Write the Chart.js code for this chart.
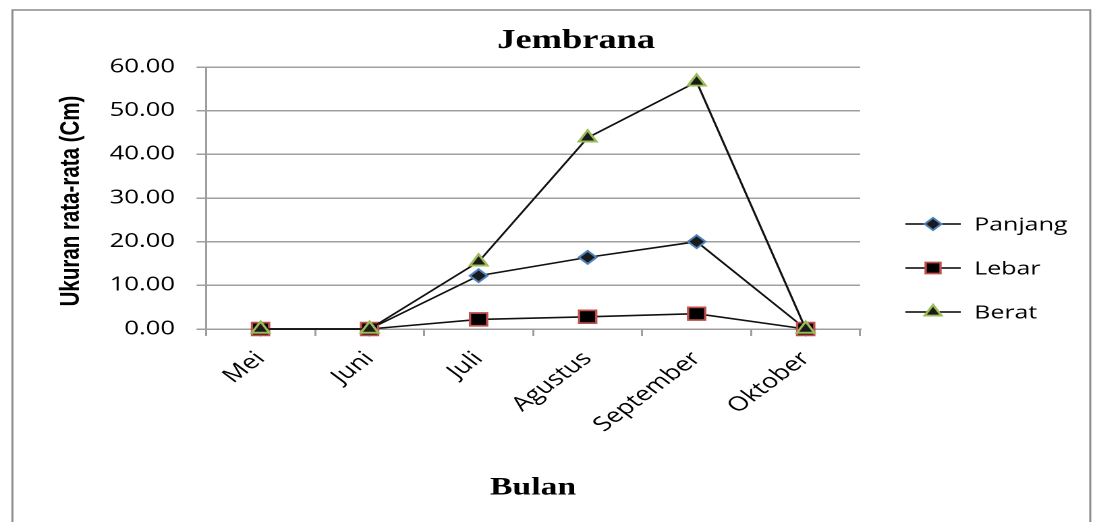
<!DOCTYPE html>
<html>
<head>
<meta charset="utf-8">
<script src="https://cdn.jsdelivr.net/npm/chart.js@4.4.0/dist/chart.umd.min.js"></script>
<style>
html,body{margin:0;padding:0;background:#fff;overflow:hidden;}
#c{display:block;width:1097px!important;height:522px!important;}
</style>
</head>
<body>
<canvas id="c" width="813" height="522"></canvas>
<script>
const categories = ['Mei', 'Juni', 'Juli', 'Agustus', 'September', 'Oktober'];
const panjang = [0, 0, 12.2, 16.4, 20.0, 0];
const lebar = [0, 0, 2.2, 2.8, 3.5, 0];
const berat = [0, 0, 15.4, 43.8, 56.6, 0];
const yTicks = [0, 10, 20, 30, 40, 50, 60];
const seriesNames = ['Panjang', 'Lebar', 'Berat'];
const chartTitle = 'Jembrana';
const xTitle = 'Bulan';
const yTitle = 'Ukuran rata-rata (Cm)';

const GRID = '#9f9f9f';
const styles = [
  {pointStyle: 'rectRot', radius: 6.5, borderColor: '#4f81bd', bg: '#1a1a1a', bw: 1.7},
  {pointStyle: 'rect', radius: 9, borderColor: '#c0504d', bg: '#000000', bw: 1.7},
  {pointStyle: 'triangle', radius: 7.5, borderColor: '#9bbb59', bg: '#1a1a1a', bw: 1.9}
];
const seriesData = [panjang, lebar, berat];

function drawMarker(ctx, st, x, y, r) {
  ctx.save();
  ctx.beginPath();
  if (st.pointStyle === 'rectRot') {
    ctx.moveTo(x - r, y); ctx.lineTo(x, y - r); ctx.lineTo(x + r, y); ctx.lineTo(x, y + r); ctx.closePath();
  } else if (st.pointStyle === 'rect') {
    const s = r * Math.SQRT1_2;
    ctx.rect(x - s, y - s, 2 * s, 2 * s);
  } else {
    const a = 2 * Math.PI / 3;
    ctx.moveTo(x, y - r);
    ctx.lineTo(x + Math.sin(a) * r, y - Math.cos(a) * r);
    ctx.lineTo(x + Math.sin(2 * a) * r, y - Math.cos(2 * a) * r);
    ctx.closePath();
  }
  ctx.fillStyle = st.bg; ctx.fill();
  ctx.lineWidth = st.bw; ctx.strokeStyle = st.borderColor; ctx.stroke();
  ctx.restore();
}

const decor = {
  id: 'decor',
  beforeDraw(chart) {
    const ctx = chart.ctx;
    ctx.save();
    ctx.fillStyle = '#fff';
    ctx.fillRect(0, 0, chart.width, chart.height);
    ctx.strokeStyle = '#8c8c8c';
    ctx.lineWidth = 1.5;
    ctx.beginPath();
    ctx.moveTo(9.2, 540); ctx.lineTo(9.2, 10); ctx.lineTo(808, 10); ctx.lineTo(808, 540);
    ctx.stroke();
    ctx.restore();
  },
  afterDraw(chart) {
    const ctx = chart.ctx;
    const area = chart.chartArea;
    ctx.save();
    ctx.fillStyle = '#000';
    ctx.textAlign = 'center';
    ctx.textBaseline = 'middle';
    ctx.font = 'bold 27px "Liberation Serif"';
    ctx.fillText(chartTitle, 427, 41);
    ctx.font = 'bold 25px "Liberation Serif"';
    ctx.fillText(xTitle, (area.left + area.right) / 2, 488);
    ctx.save();
    ctx.translate(53, (area.top + area.bottom) / 2 + 3);
    ctx.rotate(-Math.PI / 2);
    ctx.font = 'bold 20.5px "Liberation Sans"';
    ctx.fillText(yTitle, 0, 0);
    ctx.restore();
    // legend
    const rows = [224, 268, 312];
    ctx.font = '18.5px "Open Sans"';
    ctx.textAlign = 'left';
    for (let i = 0; i < seriesNames.length; i++) {
      const y = rows[i];
      ctx.beginPath();
      ctx.moveTo(671, y); ctx.lineTo(712, y);
      ctx.strokeStyle = '#000'; ctx.lineWidth = 1.5; ctx.stroke();
      const st = styles[i];
      drawMarker(ctx, st, 691.5, y, st.pointStyle === 'rect' ? 7.8 : st.radius * 0.95);
      ctx.fillStyle = '#000';
      ctx.fillText(seriesNames[i], 722, y + 1);
    }
    ctx.restore();
  }
};

new Chart(document.getElementById('c'), {
  type: 'line',
  data: {
    labels: categories,
    datasets: seriesData.map((d, i) => ({
      label: seriesNames[i],
      data: d,
      order: 3 - i,
      borderColor: '#111',
      borderWidth: 1.6,
      pointStyle: styles[i].pointStyle,
      pointRadius: styles[i].radius,
      pointHoverRadius: styles[i].radius,
      pointBackgroundColor: styles[i].bg,
      pointBorderColor: styles[i].borderColor,
      pointBorderWidth: styles[i].bw,
      tension: 0,
      fill: false,
      clip: false
    }))
  },
  options: {
    responsive: false,
    devicePixelRatio: 2,
    animation: false,
    events: [],
    layout: {autoPadding: false, padding: {left: 0, right: 175.5, top: 67, bottom: 0}},
    plugins: {legend: {display: false}, title: {display: false}, tooltip: {enabled: false}},
    scales: {
      x: {
        type: 'category',
        offset: true,
        grid: {display: true, offset: true, drawOnChartArea: false, drawTicks: true, tickLength: 7, color: GRID, lineWidth: 1.5},
        border: {display: true, color: GRID, width: 1.5},
        ticks: {
          minRotation: 45, maxRotation: 45, padding: 11, color: '#000',
          font: {family: 'Open Sans', size: 20}
        },
        afterFit(scale) { scale.height = 193; }
      },
      y: {
        min: 0, max: 60,
        afterBuildTicks(scale) { scale.ticks = yTicks.map(v => ({value: v})); },
        grid: {display: true, drawTicks: true, tickLength: 7, color: GRID, lineWidth: 1.5},
        border: {display: true, color: GRID, width: 1.5},
        ticks: {
          padding: 16, color: '#000',
          font: {family: 'Open Sans', size: 19},
          callback: v => Number(v).toFixed(2)
        },
        afterFit(scale) { scale.width = 152.7; }
      }
    }
  },
  plugins: [decor]
});
</script>
</body>
</html>
